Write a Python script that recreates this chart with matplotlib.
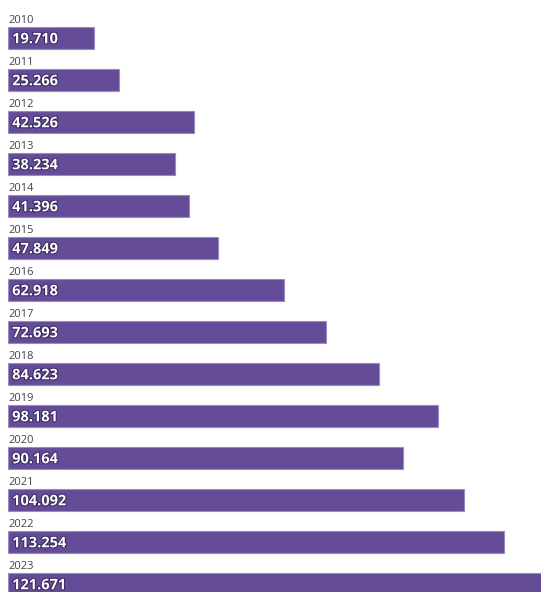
import matplotlib
matplotlib.use("Agg")
import matplotlib.pyplot as plt
import matplotlib.patheffects as pe

# ── Data ──
years = ["2010", "2011", "2012", "2013", "2014", "2015", "2016",
         "2017", "2018", "2019", "2020", "2021", "2022", "2023"]
values = [19.710, 25.266, 42.526, 38.234, 41.396, 47.849, 62.918,
          72.693, 84.623, 98.181, 90.164, 104.092, 113.254, 121.671]
value_labels = ["19.710", "25.266", "42.526", "38.234", "41.396", "47.849", "62.918",
                "72.693", "84.623", "98.181", "90.164", "104.092", "113.254", "121.671"]

BAR_COLOR = "#654c98"
EDGE_COLOR = "#9a8cc2"

W, H = 541, 592
fig = plt.figure(figsize=(W / 100, H / 100), dpi=100)
ax = fig.add_axes([8 / W, 0, 1 - 8 / W, 1])

pos = list(range(len(years)))
ax.barh(pos, values, height=22 / 42, color=BAR_COLOR, edgecolor=EDGE_COLOR,
        linewidth=0.8, align="center")

ax.set_xlim(0, max(values))
ax.set_ylim((H - 38) / 42, -38 / 42)

for i, (yr, lbl) in enumerate(zip(years, value_labels)):
    ax.text(0, i - 0.42, yr, ha="left", va="center", fontsize=8,
            color="#444444", family="Open Sans")
    ax.text(0.95, i + 0.03, lbl, ha="left", va="center", fontsize=10.5,
            color="white", fontweight="bold", family="Open Sans",
            path_effects=[pe.withStroke(linewidth=1.5, foreground="#3a2a60")])

ax.axis("off")
fig.savefig("out.png", dpi=100, facecolor="white")
